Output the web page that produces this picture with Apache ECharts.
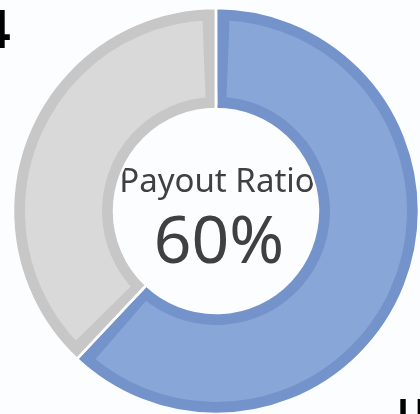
<!DOCTYPE html>
<html>
<head>
<meta charset="utf-8">
<script src="https://cdn.jsdelivr.net/npm/echarts@6/dist/echarts.min.js"></script>
<style>
  html, body { margin: 0; padding: 0; background: #fcfdff; }
  #container { width: 420px; height: 414px; }
</style>
</head>
<body>
<div id="container"></div>
<script>
// data
const categories = ['Payout', 'Retained'];
const values = [62, 38];
const centerTitle = 'Payout Ratio';
const centerValue = '60%';
const cutTexts = ['4', 'U'];

const bg = '#fcfdff';
const darkColors = ['#7493cb', '#c7c7c7'];
const fillColors = ['#88a6d8', '#d9d9d9'];
const center = [216, 211];

const chart = echarts.init(document.getElementById('container'), null, { renderer: 'canvas' });

const pieData = (colors, extra) => categories.map((name, i) => ({
  name: name,
  value: values[i],
  itemStyle: Object.assign({ color: colors[i] }, extra ? extra(i) : {})
}));

const base = {
  type: 'pie',
  center: center,
  startAngle: 90,
  clockwise: true,
  silent: true,
  label: { show: false },
  labelLine: { show: false },
  emphasis: { disabled: true }
};

const option = {
  backgroundColor: bg,
  animation: false,
  series: [
    // dark outline ring
    Object.assign({}, base, {
      radius: [102, 203],
      data: pieData(darkColors)
    }),
    // lighter inner fill, inset from the edges
    Object.assign({}, base, {
      radius: [108, 197],
      padAngle: 4.5,
      data: pieData(fillColors, (i) => ({
        borderColor: darkColors[i],
        borderWidth: 12,
        borderJoin: 'round'
      }))
    }),
    // thin gap between slices
    Object.assign({}, base, {
      radius: [102, 203],
      data: pieData(['rgba(0,0,0,0)', 'rgba(0,0,0,0)'], () => ({
        borderColor: bg,
        borderWidth: 2.5
      }))
    })
  ],
  graphic: [
    {
      type: 'text',
      style: {
        text: centerTitle,
        x: 217, y: 183,
        align: 'center',
        verticalAlign: 'middle',
        font: '33px "Noto Sans"',
        fill: '#404040'
      }
    },
    {
      type: 'text',
      style: {
        text: centerValue,
        x: 219, y: 244,
        align: 'center',
        verticalAlign: 'middle',
        font: '66px "Noto Sans"',
        fill: '#404040'
      }
    },
    {
      type: 'text',
      style: {
        text: cutTexts[0],
        x: -21, y: 33,
        align: 'left',
        verticalAlign: 'middle',
        font: 'bold 56px "Liberation Sans"',
        fill: '#000'
      }
    },
    {
      type: 'text',
      style: {
        text: cutTexts[1],
        x: 398, y: 397,
        align: 'left',
        verticalAlign: 'top',
        font: 'bold 38px "Liberation Sans"',
        fill: '#000'
      }
    }
  ]
};

chart.setOption(option);
</script>
</body>
</html>
